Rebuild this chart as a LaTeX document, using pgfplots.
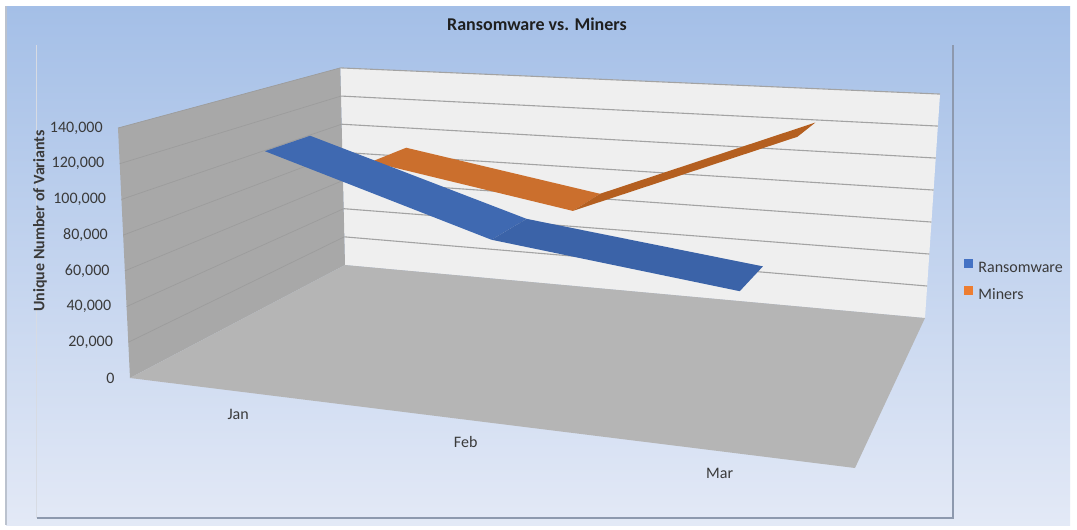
\documentclass[border=0pt]{standalone}
\usepackage{pgfplots}
\pgfplotsset{compat=1.18}
\usepackage{fontspec}
\setmainfont{Carlito}
\definecolor{bgtop}{HTML}{A4BFE7}
\definecolor{bgbot}{HTML}{E3E9F6}
\definecolor{backwall}{HTML}{EFEFEF}
\definecolor{sidewall}{HTML}{A8A8A8}
\definecolor{floorc}{HTML}{B5B5B5}
\definecolor{gridc}{HTML}{A3A3A3}
\definecolor{sidegrid}{HTML}{9C9C9C}
\definecolor{rbA}{HTML}{3F69B1}
\definecolor{rbB}{HTML}{3B63A8}
\definecolor{mnA}{HTML}{CB6F2D}
\definecolor{mnB}{HTML}{B45F20}
\definecolor{legblue}{HTML}{4472C4}
\definecolor{legorange}{HTML}{ED7D31}
\definecolor{txt}{HTML}{3A3A3A}
\definecolor{framec}{HTML}{8D99AE}
\pgfkeys{/pgfplots/table/proj/.style={
  x expr={scx(catu(\thisrow{m}),\thisrow{v},\thisrow{z})},
  y expr={scy(catu(\thisrow{m}),\thisrow{v},\thisrow{z})},
  row sep=\\}}
\begin{document}
\begin{tikzpicture}
\begin{axis}[
  scale only axis, width=538.5pt, height=265pt,
  xmin=0, xmax=1077, ymin=0, ymax=530, y dir=reverse,
  hide axis, clip=false,
  declare function={
    catu(\x)=(2*\x+1)/6;
    persw(\x,\y)=1-0.15186*\x+0.26833*\y;
    flx(\x,\y)=(595.16*\x+307.57*\y+130)/persw(\x,\y);
    fly(\x,\y)=(18.93*\x-41.89*\y+378)/persw(\x,\y);
    scx(\x,\y,\z)=flx(\x,\y)+0.034*(\z/140000)*(flx(\x,\y)-483);
    scy(\x,\y,\z)=fly(\x,\y)-250*(\z/140000)/persw(\x,\y);
  },
  legend style={at={(axis cs:964,280.5)}, anchor=west, draw=none, fill=none,
    inner sep=0pt, font=\fontsize{8}{9.6}\selectfont, text=txt, row sep=5.5pt,
    nodes={inner sep=0pt, text height=5.5pt, text depth=1.5pt},
    /tikz/every odd column/.style={column sep=2.5pt}},
  legend cell align=left,
  legend image code/.code={\fill[#1] (0pt,0pt) rectangle (4.5pt,4.5pt);},
]
% chart area
\fill[white] (axis cs:0,0) rectangle (axis cs:1077,530);
\fill[top color=bgtop, bottom color=bgbot] (axis cs:6,6) rectangle (axis cs:1070,525);
\draw[color=framec!60, line width=0.6pt] (axis cs:6,6) -- (axis cs:6,525);
\draw[color=framec!35, line width=0.5pt] (axis cs:36,45) -- (axis cs:36,518);
\draw[color=framec, line width=0.8pt] (axis cs:37,518) -- (axis cs:953,518) -- (axis cs:953,45);
% title and axis title
\node[font=\bfseries\fontsize{9}{10.8}\selectfont, text=black!88] at (axis cs:537,24) {Ransomware vs. Miners};
\node[font=\bfseries\fontsize{8}{9.6}\selectfont, text=txt, rotate=90] at (axis cs:40,221) {Unique Number of Variants};

\addlegendimage{fill=legblue, draw=none}
\addlegendentry{Ransomware}
\addlegendimage{fill=legorange, draw=none}
\addlegendentry{Miners}

% walls and floor
\addplot[fill=backwall, draw=none, forget plot] table[proj] {m v z\\ -0.5 1 0\\ 2.5 1 0\\ 2.5 1 140000\\ -0.5 1 140000\\};
\addplot[fill=sidewall, draw=none, forget plot] table[proj] {m v z\\ -0.5 0 0\\ -0.5 1 0\\ -0.5 1 140000\\ -0.5 0 140000\\};
\addplot[fill=floorc, draw=none, forget plot] table[proj] {m v z\\ -0.5 0 0\\ 2.5 0 0\\ 2.5 1 0\\ -0.5 1 0\\};
% gridlines
\pgfplotsinvokeforeach{20000,40000,60000,80000,100000,120000,140000}{
  \addplot[color=gridc, line width=0.55pt, forget plot] table[proj] {m v z\\ -0.5 1 #1\\ 2.5 1 #1\\};
  \addplot[color=sidegrid, line width=0.35pt, forget plot] table[proj] {m v z\\ -0.5 0 #1\\ -0.5 1 #1\\};
}
% Miners ribbon (back row)
\addplot[fill=mnA, draw=none, forget plot] table[proj] {m v z\\ 0 0.65 94000\\ 1 0.65 72000\\ 1 0.85 72000\\ 0 0.85 94000\\};
\addplot[fill=mnB, draw=none, forget plot] table[proj] {m v z\\ 1 0.65 72000\\ 2 0.65 125000\\ 2 0.85 125000\\ 1 0.85 72000\\};
% Ransomware ribbon (front row)
\addplot[fill=rbA, draw=none, forget plot] table[proj] {m v z\\ 0 0.15 124000\\ 1 0.15 84000\\ 1 0.35 84000\\ 0 0.35 124000\\};
\addplot[fill=rbB, draw=none, forget plot] table[proj] {m v z\\ 1 0.15 84000\\ 2 0.15 68000\\ 2 0.35 68000\\ 1 0.35 84000\\};
% value axis labels
\addplot[draw=none, forget plot, nodes near coords, point meta=explicit symbolic,
  every node near coord/.style={anchor=east, xshift=-7.5pt, inner sep=0pt,
    font=\fontsize{8}{9.6}\selectfont, text=txt}]
  table[proj, meta=label] {m v z label\\ -0.5 0 0 0\\ -0.5 0 20000 20,000\\ -0.5 0 40000 40,000\\ -0.5 0 60000 60,000\\ -0.5 0 80000 80,000\\ -0.5 0 100000 100,000\\ -0.5 0 120000 120,000\\ -0.5 0 140000 140,000\\};
% category labels
\addplot[draw=none, forget plot, nodes near coords, point meta=explicit symbolic,
  every node near coord/.style={anchor=center, yshift=-11.5pt, xshift=1.5pt, inner sep=0pt,
    font=\fontsize{8}{9.6}\selectfont, text=txt}]
  table[proj, meta=label] {m v z label\\ 0 0 0 Jan\\ 1 0 0 Feb\\ 2 0 0 Mar\\};
\end{axis}
\end{tikzpicture}
\end{document}
